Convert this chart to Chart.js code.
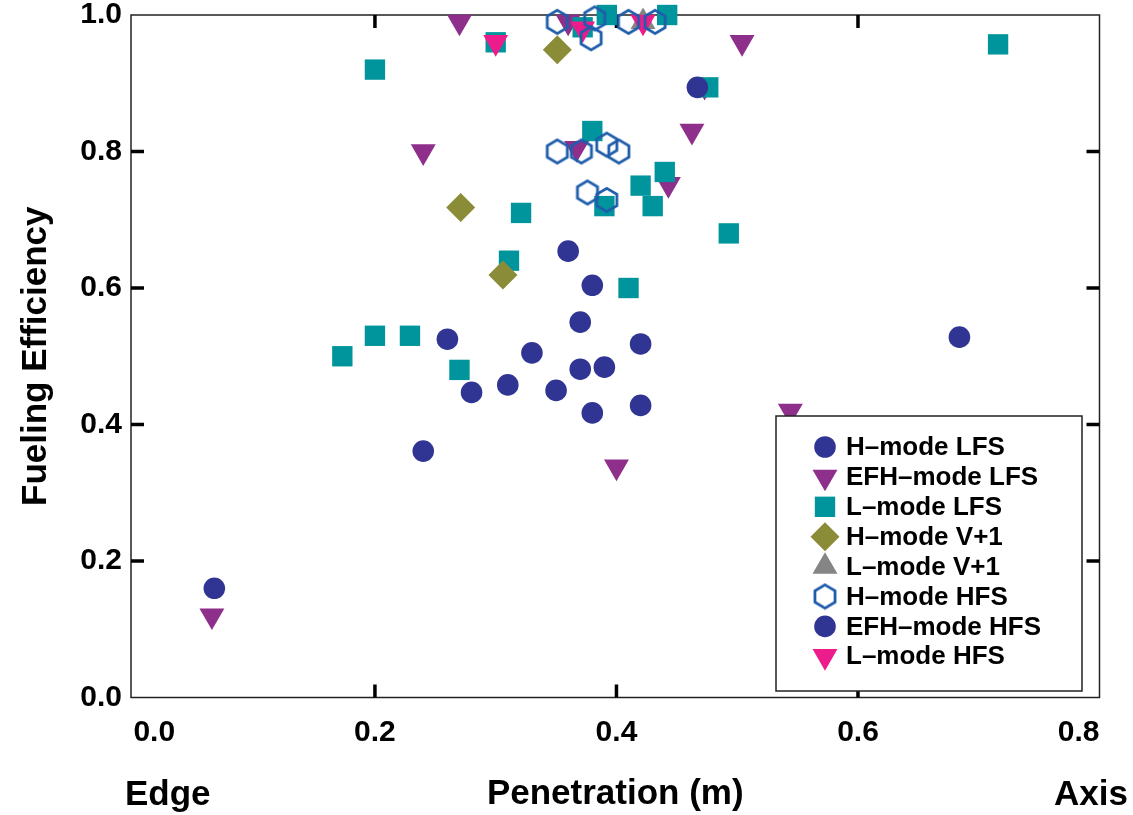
<!DOCTYPE html>
<html lang="en">
<head>
<meta charset="UTF-8">
<title>Fueling Efficiency vs Penetration</title>
<script src="https://cdn.jsdelivr.net/npm/chart.js@4"></script>
<style>
    body { margin: 0; background: #fff; }
    .wrap { width: 1133px; height: 815px; position: relative; }
</style>
</head>
<body>
<div class="wrap"><canvas id="grafico"></canvas></div>
<script>
const FONT = "'Liberation Sans', Arial, Helvetica, sans-serif";

// [penetration (m), fueling efficiency]
const hModeLfs = [[0.26,0.525],[0.28,0.447],[0.31,0.458],[0.33,0.505],[0.35,0.45],[0.37,0.481],[0.39,0.484],
                  [0.37,0.55],[0.38,0.604],[0.36,0.654],[0.38,0.417],[0.42,0.518],[0.42,0.428]];
const efhModeLfs = [[0.065,0.12],[0.24,0.80],[0.27,0.99],[0.36,0.99],[0.367,0.805],[0.4625,0.83],[0.443,0.752],
                    [0.504,0.96],[0.473,0.896],[0.544,0.42],[0.40,0.338]];
const lModeLfs = [[0.173,0.50],[0.20,0.53],[0.229,0.53],[0.27,0.48],[0.311,0.64],[0.321,0.71],[0.20,0.92],
                  [0.30,0.96],[0.38,0.83],[0.42,0.75],[0.39,0.72],[0.43,0.72],[0.44,0.77],[0.41,0.60],
                  [0.493,0.68],[0.476,0.894],[0.716,0.957],[0.392,1.0],[0.442,1.0],[0.372,0.982]];
const hModeV1 = [[0.351,0.949],[0.271,0.718],[0.306,0.619]];
const lModeV1 = [[0.422,0.99]];
const hModeHfs = [[0.351,0.99],[0.382,0.995],[0.379,0.966],[0.41,0.99],[0.432,0.99],[0.351,0.80],
                  [0.371,0.80],[0.392,0.81],[0.402,0.80],[0.376,0.74],[0.392,0.729]];
const efhModeHfs = [[0.067,0.16],[0.24,0.361],[0.467,0.894],[0.684,0.528]];
const lModeHfs = [[0.30,0.96],[0.372,0.98],[0.422,0.99]];

const xTicks = [0, 0.2, 0.4, 0.6, 0.8];
const yTicks = [0, 0.2, 0.4, 0.6, 0.8, 1.0];

// hexagon outline marker
const hexagono = document.createElement('canvas');
hexagono.width = 26; hexagono.height = 28;
(function () {
    const c = hexagono.getContext('2d');
    const R = 11.6;
    c.strokeStyle = '#1f5dab';
    c.lineWidth = 2.8;
    c.beginPath();
    for (let i = 0; i < 6; i++) {
        const a = -Math.PI / 2 + i * Math.PI / 3;
        const px = 13 + R * Math.cos(a), py = 14 + R * Math.sin(a);
        if (i === 0) c.moveTo(px, py); else c.lineTo(px, py);
    }
    c.closePath();
    c.stroke();
})();

const toXY = arr => arr.map(p => ({ x: p[0], y: p[1] }));

function serie(label, data, color, style, radius, rotation, order) {
    return {
        label: label,
        data: toXY(data),
        backgroundColor: color,
        borderColor: color,
        borderWidth: 0,
        pointStyle: style,
        pointRadius: radius,
        pointRotation: rotation,
        order: order,
        clip: false
    };
}

const datasets = [
    serie('H\u2013mode LFS', hModeLfs, '#303593', 'circle', 10.8, 0, 0),
    serie('EFH\u2013mode LFS', efhModeLfs, '#8e2f8c', 'triangle', 14.4, 180, 6),
    serie('L\u2013mode LFS', lModeLfs, '#00959c', 'rect', 14.4, 0, 4),
    serie('H\u2013mode V+1', hModeV1, '#8b8c38', 'rectRot', 14.5, 0, 3),
    serie('L\u2013mode V+1', lModeV1, '#858585', 'triangle', 14.4, 0, 5),
    serie('H\u2013mode HFS', hModeHfs, '#1f5dab', hexagono, 12, 0, 1),
    serie('EFH\u2013mode HFS', efhModeHfs, '#303593', 'circle', 10.8, 0, 0),
    serie('L\u2013mode HFS', lModeHfs, '#ec1c8c', 'triangle', 14.4, 180, 2)
];

// frame box with inward ticks on all four sides
const marco = {
    id: 'marco',
    beforeDatasetsDraw(chart) {
        const { ctx, chartArea: a, scales } = chart;
        ctx.save();
        ctx.strokeStyle = '#222';
        ctx.lineWidth = 1.5;
        ctx.strokeRect(a.left, a.top, a.right - a.left, a.bottom - a.top);
        ctx.strokeStyle = '#000';
        ctx.lineWidth = 3.5;
        ctx.beginPath();
        xTicks.slice(1, -1).forEach(v => {
            const px = scales.x.getPixelForValue(v);
            ctx.moveTo(px, a.bottom); ctx.lineTo(px, a.bottom - 13);
            ctx.moveTo(px, a.top); ctx.lineTo(px, a.top + 13);
        });
        yTicks.slice(1, -1).forEach(v => {
            const py = scales.y.getPixelForValue(v);
            ctx.moveTo(a.left, py); ctx.lineTo(a.left + 13, py);
            ctx.moveTo(a.right, py); ctx.lineTo(a.right - 13, py);
        });
        ctx.stroke();
        ctx.restore();
    }
};

// legend box inside the plot + Edge / Axis labels
const leyenda = {
    id: 'leyenda',
    afterDatasetsDraw(chart) {
        const ctx = chart.ctx;
        ctx.save();
        ctx.fillStyle = '#fff';
        ctx.fillRect(776, 416, 306, 275);
        ctx.strokeStyle = '#222';
        ctx.lineWidth = 1.5;
        ctx.strokeRect(776, 416, 306, 275);
        ctx.font = 'bold 26px ' + FONT;
        ctx.textBaseline = 'middle';
        ctx.textAlign = 'left';
        chart.data.datasets.forEach((ds, i) => {
            const y = 447 + i * 29.9;
            ctx.fillStyle = ds.backgroundColor;
            ctx.strokeStyle = ds.borderColor;
            Chart.helpers.drawPoint(ctx, {
                pointStyle: ds.pointStyle, radius: ds.pointRadius,
                rotation: ds.pointRotation, borderWidth: 0
            }, 825, y);
            ctx.fillStyle = '#000';
            ctx.fillText(ds.label, 846, y + 1);
        });

        ctx.font = 'bold 35px ' + FONT;
        ctx.fillStyle = '#000';
        ctx.textAlign = 'left';
        ctx.fillText('Edge', 125, 795);
        ctx.textAlign = 'right';
        ctx.fillText('Axis', 1128, 795);
        ctx.restore();
    }
};

new Chart(document.getElementById('grafico'), {
    type: 'scatter',
    data: { datasets: datasets },
    options: {
        responsive: true,
        maintainAspectRatio: false,
        animation: false,
        layout: { padding: { left: 0, top: 15, right: 33.5, bottom: 0 } },
        plugins: { legend: { display: false }, tooltip: { enabled: false } },
        scales: {
            x: {
                type: 'linear',
                min: -0.002,
                max: 0.8,
                afterBuildTicks: s => { s.ticks = xTicks.map(v => ({ value: v })); },
                afterFit: s => { s.height = 117.5; s.paddingLeft = 0; s.paddingRight = 0; },
                grid: { display: false, drawTicks: false },
                border: { display: false },
                ticks: {
                    align: 'inner',
                    padding: 17,
                    color: '#000',
                    font: { family: FONT, size: 30, weight: 'bold' },
                    callback: v => v.toFixed(1)
                },
                title: {
                    display: true,
                    text: 'Penetration (m)',
                    color: '#000',
                    font: { family: FONT, size: 35, weight: 'bold', lineHeight: 1 },
                    padding: { top: 0, bottom: 3 }
                }
            },
            y: {
                type: 'linear',
                min: 0,
                max: 1,
                afterBuildTicks: s => { s.ticks = yTicks.map(v => ({ value: v })); },
                afterFit: s => { s.width = 131; s.paddingTop = 0; s.paddingBottom = 0; },
                grid: { display: false, drawTicks: false },
                border: { display: false },
                ticks: {
                    padding: 9,
                    color: '#000',
                    font: { family: FONT, size: 30, weight: 'bold' },
                    callback: v => v.toFixed(1)
                },
                title: {
                    display: true,
                    text: 'Fueling Efficiency',
                    color: '#000',
                    font: { family: FONT, size: 35, weight: 'bold', lineHeight: 1.2 },
                    padding: { top: 15, bottom: 0 }
                }
            }
        }
    },
    plugins: [marco, leyenda]
});
</script>
</body>
</html>
